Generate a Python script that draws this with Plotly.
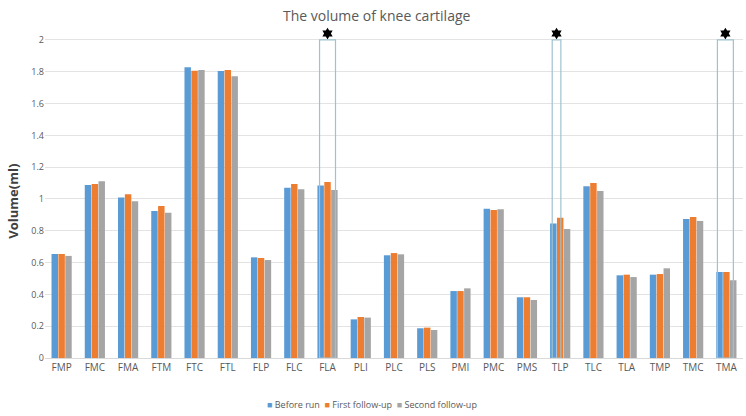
import plotly.graph_objects as go

categories = ["FMP", "FMC", "FMA", "FTM", "FTC", "FTL", "FLP", "FLC", "FLA", "PLI", "PLC",
              "PLS", "PMI", "PMC", "PMS", "TLP", "TLC", "TLA", "TMP", "TMC", "TMA"]
before_run = [0.654, 1.088, 1.010, 0.925, 1.828, 1.805, 0.633, 1.071, 1.084, 0.243, 0.646,
              0.187, 0.421, 0.939, 0.382, 0.845, 1.080, 0.520, 0.524, 0.874, 0.541]
first_follow = [0.654, 1.094, 1.029, 0.956, 1.807, 1.811, 0.629, 1.094, 1.107, 0.258, 0.660,
                0.191, 0.421, 0.931, 0.382, 0.882, 1.101, 0.524, 0.528, 0.887, 0.541]
second_follow = [0.642, 1.111, 0.985, 0.914, 1.811, 1.772, 0.616, 1.061, 1.057, 0.254, 0.652,
                 0.176, 0.438, 0.935, 0.365, 0.811, 1.050, 0.509, 0.564, 0.862, 0.489]
series_names = ["Before run", "First follow-up", "Second follow-up"]
colors = ["#5B9BD5", "#ED7D31", "#A5A5A5"]

# Significant categories: highlighted with a box and a star
sig_categories = ["FLA", "TLP", "TMA"]
sig_box_top = [2.0, 2.0, 2.0]
sig_box_offset = [(-0.24, 0.24), (-0.24, 0.02), (-0.27, 0.21)]
star_value = 2.04

fig = go.Figure()
for name, vals, col in zip(series_names, [before_run, first_follow, second_follow], colors):
    fig.add_trace(go.Bar(x=categories, y=vals, name=name, marker_color=col,
                         marker_line_width=0, showlegend=False))

star_x = []
for cat, top, (o0, o1) in zip(sig_categories, sig_box_top, sig_box_offset):
    i = categories.index(cat)
    fig.add_shape(type="rect", xref="x", yref="y", x0=i + o0, x1=i + o1, y0=0, y1=top,
                  line=dict(color="#9DC3D0", width=1.2), fillcolor="rgba(0,0,0,0)")
    star_x.append(i + (o0 + o1) / 2)

fig.add_trace(go.Scatter(x=star_x, y=[star_value] * len(star_x), xaxis="x2", yaxis="y",
                         mode="markers", marker=dict(symbol="hexagram", size=9, color="black"),
                         showlegend=False, hoverinfo="skip", cliponaxis=False))

# custom compact legend
legend_text = "&nbsp;&nbsp;".join(
    f"<span style='color:{c}'>■</span> {n}" for n, c in zip(series_names, colors))
fig.add_annotation(x=0.469, y=-0.143, xref="paper", yref="paper", text=legend_text,
                   showarrow=False, font=dict(size=9, color="#595959"),
                   xanchor="center", yanchor="middle")

# y axis title
fig.add_annotation(x=-0.047, y=0.48, xref="paper", yref="paper", text="<b>Volume(ml)</b>",
                   textangle=-90, showarrow=False, font=dict(size=13, color="#404040"),
                   xanchor="center", yanchor="middle")

fig.update_layout(
    width=746, height=416,
    paper_bgcolor="white", plot_bgcolor="white",
    font=dict(family="Open Sans, Noto Sans, sans-serif", color="#595959", size=10),
    title=dict(text="The volume of knee cartilage", x=0.505, xanchor="center", y=0.962,
               yanchor="middle", font=dict(size=14, color="#595959")),
    margin=dict(l=45, r=3, t=32, b=58, autoexpand=False),
    barmode="group", bargap=0.38, bargroupgap=0.06,
    showlegend=False,
    xaxis=dict(type="category", showgrid=False, showline=True, linecolor="#D9D9D9",
               ticks="", tickfont=dict(size=10, color="#595959"), range=[-0.5, 20.5],
               automargin=False),
    xaxis2=dict(overlaying="x", range=[-0.5, 20.5], visible=False, anchor="y"),
    yaxis=dict(range=[0, 2.05], tickvals=[0, 0.2, 0.4, 0.6, 0.8, 1, 1.2, 1.4, 1.6, 1.8, 2],
               showgrid=True, gridcolor="#E3E3E3", gridwidth=1,
               zeroline=False, tickfont=dict(size=9, color="#595959"), automargin=False),
)

fig.write_html("out.html", config={"displayModeBar": False},
               post_script="document.body.style.margin='0px';document.body.style.overflow='hidden';")
